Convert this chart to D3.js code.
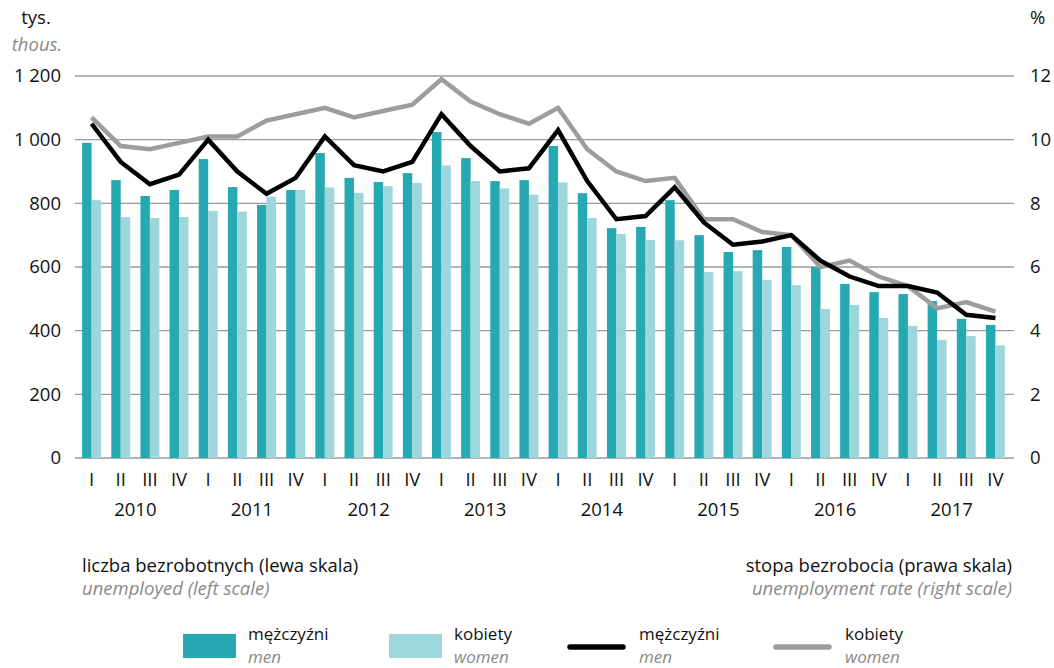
<!DOCTYPE html>
<html>
<head>
<meta charset="utf-8">
<script src="https://cdn.jsdelivr.net/npm/d3@7"></script>
<style>
  body { margin: 0; background: #fff; }
  svg { display: block; font-family: "Open Sans", "Noto Sans", sans-serif; }
</style>
</head>
<body>
<div id="chart"></div>
<script>
const years = [2010, 2011, 2012, 2013, 2014, 2015, 2016, 2017];
const quarters = ["I", "II", "III", "IV"];

// unemployed, thousands (left scale)
const menUnemployed = [990, 873, 823, 842, 939, 851, 795, 842, 958, 880, 867, 895,
  1024, 942, 870, 873, 980, 832, 722, 726, 810, 700, 647, 653, 663, 600, 547, 521,
  515, 493, 437, 418];
const womenUnemployed = [810, 757, 754, 757, 776, 774, 821, 842, 850, 833, 854, 864,
  919, 870, 847, 827, 866, 754, 704, 685, 684, 584, 587, 559, 543, 468, 481, 440,
  415, 371, 383, 354];

// unemployment rate, % (right scale)
const menRate = [10.5, 9.3, 8.6, 8.9, 10.0, 9.0, 8.3, 8.8, 10.1, 9.2, 9.0, 9.3,
  10.8, 9.8, 9.0, 9.1, 10.3, 8.7, 7.5, 7.6, 8.5, 7.4, 6.7, 6.8, 7.0, 6.2, 5.7, 5.4,
  5.4, 5.2, 4.5, 4.4];
const womenRate = [10.7, 9.8, 9.7, 9.9, 10.1, 10.1, 10.6, 10.8, 11.0, 10.7, 10.9, 11.1,
  11.9, 11.2, 10.8, 10.5, 11.0, 9.7, 9.0, 8.7, 8.8, 7.5, 7.5, 7.1, 7.0, 6.0, 6.2, 5.7,
  5.4, 4.7, 4.9, 4.6];

const leftTicks = [0, 200, 400, 600, 800, 1000, 1200];
const rightTicks = [0, 2, 4, 6, 8, 10, 12];

const colMen = "#27a9b4";
const colWomen = "#9dd7dc";
const fs = 18.5;

const width = 1054, height = 668;
const plotTop = 76, plotBottom = 458;

const rows = [];
years.forEach((y) => quarters.forEach((q) => rows.push({ year: y, q, key: y + q })));
rows.forEach((d, i) => {
  d.men = menUnemployed[i];
  d.women = womenUnemployed[i];
  d.menRate = menRate[i];
  d.womenRate = womenRate[i];
});

const svg = d3.select("#chart").append("svg")
  .attr("width", width).attr("height", height);

const x = d3.scaleBand()
  .domain(rows.map((d) => d.key))
  .range([77, 1010])
  .paddingInner(0.35)
  .paddingOuter(0.175);
const xSub = d3.scaleBand().domain(["men", "women"]).range([0, x.bandwidth()]);
const yL = d3.scaleLinear().domain([0, 1200]).range([plotBottom, plotTop]);
const yR = d3.scaleLinear().domain([0, 12]).range([plotBottom, plotTop]);

// grid
svg.append("g")
  .selectAll("line")
  .data(leftTicks)
  .join("line")
  .attr("x1", 75).attr("x2", 1014)
  .attr("y1", (d) => yL(d)).attr("y2", (d) => yL(d))
  .attr("stroke", "#9a9a9a")
  .attr("stroke-width", 1.3);

// left axis labels
const fmt = (v) => v >= 1000 ? d3.format(",")(v).replace(",", " ") : String(v);
svg.append("g")
  .selectAll("text")
  .data(leftTicks)
  .join("text")
  .attr("x", 61).attr("y", (d) => yL(d))
  .attr("dy", "0.35em")
  .attr("text-anchor", "end")
  .attr("font-size", fs)
  .attr("fill", "#111")
  .text(fmt);

// right axis labels
svg.append("g")
  .selectAll("text")
  .data(rightTicks)
  .join("text")
  .attr("x", 1030).attr("y", (d) => yR(d))
  .attr("dy", "0.35em")
  .attr("font-size", fs)
  .attr("fill", "#111")
  .text((d) => d);

// units
svg.append("text").attr("x", 36).attr("y", 24).attr("text-anchor", "middle")
  .attr("font-size", fs).attr("fill", "#111").text("tys.");
svg.append("text").attr("x", 37).attr("y", 51).attr("text-anchor", "middle")
  .attr("font-size", fs).attr("font-style", "italic").attr("fill", "#8a8a8a").text("thous.");
svg.append("text").attr("x", 1030).attr("y", 24)
  .attr("font-size", fs).attr("fill", "#111").text("%");

// bars
const bars = svg.append("g");
bars.selectAll("rect.men")
  .data(rows)
  .join("rect")
  .attr("class", "men")
  .attr("x", (d) => x(d.key) + xSub("men"))
  .attr("width", xSub.bandwidth())
  .attr("y", (d) => yL(d.men))
  .attr("height", (d) => plotBottom - yL(d.men))
  .attr("fill", colMen);
bars.selectAll("rect.women")
  .data(rows)
  .join("rect")
  .attr("class", "women")
  .attr("x", (d) => x(d.key) + xSub("women"))
  .attr("width", xSub.bandwidth())
  .attr("y", (d) => yL(d.women))
  .attr("height", (d) => plotBottom - yL(d.women))
  .attr("fill", colWomen);

// rate lines
const cx = (d) => x(d.key) + x.bandwidth() / 2;
const lineWomen = d3.line().x(cx).y((d) => yR(d.womenRate));
const lineMen = d3.line().x(cx).y((d) => yR(d.menRate));
svg.append("path").datum(rows)
  .attr("d", lineWomen)
  .attr("fill", "none").attr("stroke", "#9d9d9d")
  .attr("stroke-width", 4.5).attr("stroke-linejoin", "miter");
svg.append("path").datum(rows)
  .attr("d", lineMen)
  .attr("fill", "none").attr("stroke", "#000")
  .attr("stroke-width", 4.5).attr("stroke-linejoin", "miter");

// quarter labels
svg.append("g")
  .selectAll("text")
  .data(rows)
  .join("text")
  .attr("x", cx).attr("y", 480)
  .attr("dy", "0.35em")
  .attr("text-anchor", "middle")
  .attr("font-size", fs)
  .attr("fill", "#111")
  .text((d) => d.q);

// year labels
svg.append("g")
  .selectAll("text")
  .data(years)
  .join("text")
  .attr("x", (y) => (x(y + "I") + x(y + "IV") + x.bandwidth()) / 2)
  .attr("y", 510)
  .attr("dy", "0.35em")
  .attr("text-anchor", "middle")
  .attr("font-size", fs)
  .attr("fill", "#111")
  .text((y) => y);

// scale captions
svg.append("text").attr("x", 82).attr("y", 572)
  .attr("font-size", fs).attr("fill", "#111").text("liczba bezrobotnych (lewa skala)");
svg.append("text").attr("x", 82).attr("y", 595)
  .attr("font-size", fs).attr("font-style", "italic").attr("fill", "#8a8a8a").text("unemployed (left scale)");
svg.append("text").attr("x", 1012).attr("y", 572).attr("text-anchor", "end")
  .attr("font-size", fs).attr("fill", "#111").text("stopa bezrobocia (prawa skala)");
svg.append("text").attr("x", 1012).attr("y", 595).attr("text-anchor", "end")
  .attr("font-size", fs).attr("font-style", "italic").attr("fill", "#8a8a8a").text("unemployment rate (right scale)");

// legend
const legendItems = [
  { type: "rect", color: colMen, x: 183, pl: "mężczyźni", en: "men" },
  { type: "rect", color: colWomen, x: 389, pl: "kobiety", en: "women" },
  { type: "line", color: "#000", x: 567, pl: "mężczyźni", en: "men" },
  { type: "line", color: "#9d9d9d", x: 773, pl: "kobiety", en: "women" }
];
const lg = svg.append("g").selectAll("g").data(legendItems).join("g")
  .attr("transform", (d) => `translate(${d.x},0)`);
lg.filter((d) => d.type === "rect").append("rect")
  .attr("x", 0).attr("y", 634).attr("width", 53).attr("height", 24)
  .attr("fill", (d) => d.color);
lg.filter((d) => d.type === "line").append("line")
  .attr("x1", 3).attr("x2", 56).attr("y1", 647).attr("y2", 647)
  .attr("stroke", (d) => d.color).attr("stroke-width", 5.5)
  .attr("stroke-linecap", "round");
lg.append("text").attr("x", (d) => d.type === "rect" ? 65 : 72).attr("y", 640)
  .attr("font-size", 17).attr("fill", "#111").text((d) => d.pl);
lg.append("text").attr("x", (d) => d.type === "rect" ? 65 : 72).attr("y", 663)
  .attr("font-size", 17).attr("font-style", "italic").attr("fill", "#8a8a8a").text((d) => d.en);
</script>
</body>
</html>
